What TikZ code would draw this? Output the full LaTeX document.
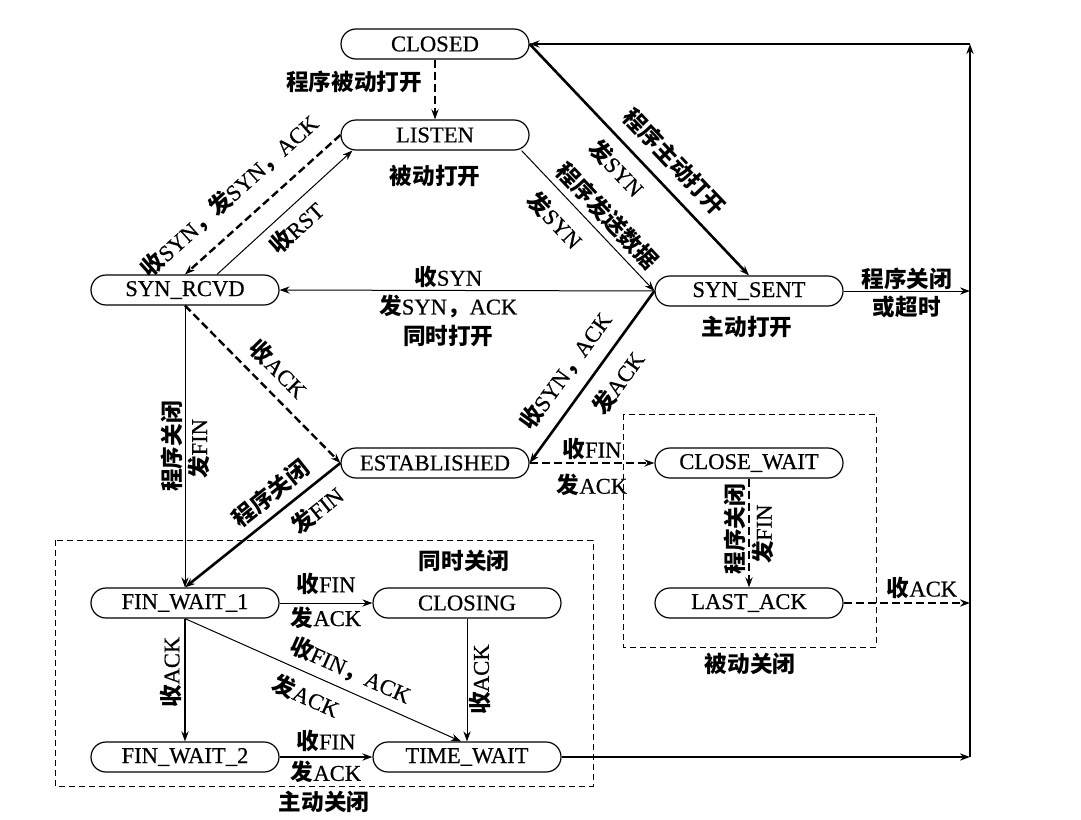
\documentclass[tikz,border=0pt]{standalone}
\usepackage{fontspec}
\setmainfont{Liberation Serif}[FakeBold=0.5]
\newfontfamily\cjk{Noto Sans CJK SC}
\usetikzlibrary{arrows.meta,positioning}
\newcommand{\zh}[1]{{\cjk\bfseries #1}}

\begin{document}
\begin{tikzpicture}[x=0.5pt, y=-0.5pt, >={Stealth[length=5pt,width=3.6pt]},
	font=\fontsize{11.3}{13}\selectfont,
	state/.style={draw, line width=0.6pt, rounded corners=7.5pt, minimum width=94pt, minimum height=15pt, inner sep=0pt},
	tline/.style={line width=0.5pt},
	heavy/.style={line width=1.3pt},
	dline/.style={line width=1.2pt, dash pattern=on 4pt off 2pt},
	region/.style={line width=0.5pt, dash pattern=on 3pt off 2pt},
	lab/.style={inner sep=1pt}]
		\useasboundingbox (0,0) rectangle (1081,819);
		% states
		\node[state] (closed) at (435,44) {CLOSED};
		\node[state] (listen) at (435,135) {LISTEN};
		\node[state] (rcvd) at (185,290) {SYN\_RCVD};
		\node[state] (sent) at (749,291) {SYN\_SENT};
		\node[state] (estab) at (435,463) {ESTABLISHED};
		\node[state] (cwait) at (749,463) {CLOSE\_WAIT};
		\node[state] (lack) at (749,603) {LAST\_ACK};
		\node[state] (fw1) at (185,603) {FIN\_WAIT\_1};
		\node[state] (closing) at (467,603) {CLOSING};
		\node[state] (fw2) at (185,757) {FIN\_WAIT\_2};
		\node[state] (twait) at (467,757) {TIME\_WAIT};
		\node (pasvopen) at (435,176) {\zh{被动打开}};
		\node (actvopen) at (747,327) {\zh{主动打开}};
		% closing regions
		\draw[region] (55,540) rectangle (593,786);
		\draw[region] (623,414) rectangle (876,647);
		\node (simclose) at (464,561) {\zh{同时关闭}};
		\node (actvclose) at (324,802) {\zh{主动关闭}};
		\node (pasvclose) at (750,664) {\zh{被动关闭}};
		% return line to CLOSED
		\coordinate (r1) at (970,291);
		\coordinate (r2) at (970,603);
		\coordinate (r3) at (970,757);
		\coordinate (r4) at (970,44);
		% opening
		\draw[dline,->] (closed) -- (listen) node[pos=.38, left=5pt, lab] {\zh{程序被动打开}};
		\draw[dline,->] (listen.west) -- (rcvd.north)
			node[pos=.59, sloped, above=7pt, lab] {\zh{收}SYN\zh{，发}SYN\zh{，}ACK};
		\draw[tline,->] ([xshift=16pt]rcvd.north) -- ([xshift=6pt]listen.south west)
			node[pos=.49, sloped, below=3pt, lab] {\zh{收}RST};
		\draw[tline,->] ([xshift=-4pt]listen.south east) -- (sent.west)
			node[pos=.55, sloped, above=2pt, lab] {\zh{程序发送数据}}
			node[pos=.38, sloped, below=5pt, lab] {\zh{发}SYN};
		\draw[heavy,->] (closed.east) -- (sent.north)
			node[pos=.58, sloped, above=5pt, lab] {\zh{程序主动打开}}
			node[pos=.47, sloped, below=4pt, lab] {\zh{发}SYN};
		\draw[tline,->] (sent.west) -- (rcvd.east)
			node[pos=.55, above, lab] {\zh{收}SYN}
			node[pos=.55, below=1pt, lab, align=center] {\zh{发}SYN\zh{，}ACK\\[2pt]\zh{同时打开}};
		\draw[dline,->] (rcvd.south) -- (estab.west)
			node[pos=.5, sloped, above=4pt, lab] {\zh{收}ACK};
		\draw[heavy,->] (sent.west) -- (estab.east)
			node[pos=.55, sloped, above=5pt, lab] {\zh{收}SYN\zh{，}ACK}
			node[pos=.45, sloped, below=5pt, lab] {\zh{发}ACK};
		% closing
		\draw[tline,->] (rcvd.south) -- (fw1.north)
			node[pos=.5, rotate=90, above, lab] {\zh{程序关闭}}
			node[pos=.5, rotate=90, below=1pt, lab] {\zh{发}FIN};
		\draw[heavy,->] (estab.west) -- (fw1.north)
			node[pos=.37, sloped, above=3pt, lab] {\zh{程序关闭}}
			node[pos=.24, sloped, below=4pt, lab] {\zh{发}FIN};
		\draw[dline,->] (estab.east) -- (cwait.west)
			node[pos=.5, above, lab] {\zh{收}FIN}
			node[pos=.5, below=4pt, lab] {\zh{发}ACK};
		\draw[dline,->] (cwait.south) -- (lack.north)
			node[pos=.5, rotate=90, above=2pt, lab] {\zh{程序关闭}}
			node[pos=.5, rotate=90, below=0.5pt, lab] {\zh{发}FIN};
		\draw[dline,->] (lack.east) -- (r2)
			node[pos=.62, above=0.5pt, lab] {\zh{收}ACK};
		\draw[tline,->] (sent.east) -- (r1)
			node[pos=.5, above=0pt, inner sep=0.5pt] {\zh{程序关闭}}
			node[pos=.5, below=1.5pt, lab] {\zh{或超时}};
		\draw[tline,->] (fw1.east) -- (closing.west)
			node[pos=.5, above=3pt, lab] {\zh{收}FIN}
			node[pos=.5, below=0.5pt, lab] {\zh{发}ACK};
		\draw[heavy,->] (fw1.south) -- (fw2.north)
			node[pos=.45, rotate=90, above=1pt, lab] {\zh{收}ACK};
		\draw[tline,->] (fw1.south) -- ([xshift=-3pt]twait.north)
			node[pos=.57, sloped, above=3pt, lab] {\zh{收}FIN\zh{，}ACK}
			node[pos=.47, sloped, below=4pt, lab] {\zh{发}ACK};
		\draw[tline,->] (closing.south) -- (twait.north)
			node[pos=.48, rotate=90, below=1pt, lab] {\zh{收}ACK};
		\draw[heavy,->] (fw2.east) -- (twait.west)
			node[pos=.5, above=1pt, lab] {\zh{收}FIN}
			node[pos=.5, below=0.5pt, lab] {\zh{发}ACK};
		\draw[heavy,->] (twait.east) -- (r3);
		\draw[line width=0.7pt,->] (r3) -- (r4);
		\draw[line width=0.7pt,->] (r4) -- (closed.east);
	\end{tikzpicture}
\end{document}
